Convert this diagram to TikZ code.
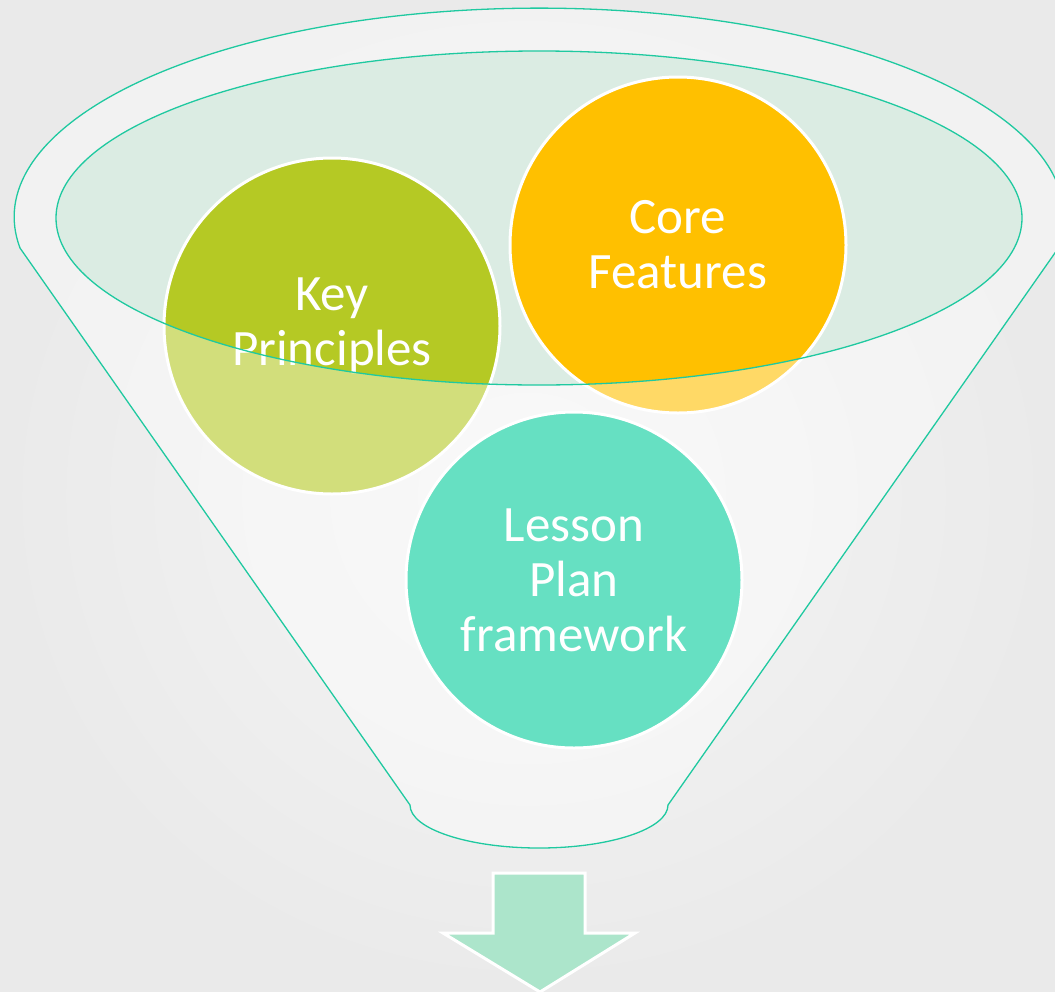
\documentclass[tikz,border=0pt]{standalone}
\usepackage{fontspec}
\setmainfont{Carlito}
\definecolor{bgin}{HTML}{F6F6F6}
\definecolor{bgout}{HTML}{EAEAEA}
\definecolor{funline}{HTML}{1FC9A0}
\definecolor{openfill}{HTML}{DBECE3}
\definecolor{kpcol}{HTML}{B5C924}
\definecolor{cfcol}{HTML}{FFC000}
\definecolor{lpcol}{HTML}{66E0C2}
\definecolor{arrcol}{HTML}{ACE5CB}
\tikzset{
  bubble/.style={circle, draw=white, line width=3pt, inner sep=0pt, minimum size=336pt,
    text=white, align=center, font=\fontsize{51}{55}\selectfont},
  funnelline/.style={draw=funline, line width=1.3pt},
}
\begin{document}
\begin{tikzpicture}[x=1pt,y=-1pt]
\useasboundingbox (0,0) rectangle (1055,991);
% background
\shade[inner color=bgin, outer color=bgout] (0,0) rectangle (1055,991);
% funnel opening fill
\fill[openfill] (539,218) ellipse[x radius=483, y radius=167];
% back circles
\node[bubble, fill=kpcol] (kp) at (332,326) {Key\\Principles};
\node[bubble, fill=cfcol] (cf) at (678,245) {Core\\Features};
% funnel body overlay (semi-transparent)
\fill[white, fill opacity=0.4, even odd rule]
  (410,805) -- (20,248)
  arc[start angle=171.5, end angle=368.5, x radius=525, y radius=209]
  -- (668,805)
  arc[start angle=0, end angle=180, x radius=129, y radius=43] -- cycle
  (539,218) ellipse[x radius=483, y radius=167];
% outlines
\draw[funnelline, line join=round]
  (410,805) -- (20,248)
  arc[start angle=171.5, end angle=368.5, x radius=525, y radius=209]
  -- (668,805)
  arc[start angle=0, end angle=180, x radius=129, y radius=43] -- cycle;
\draw[funnelline] (539,218) ellipse[x radius=483, y radius=167];
% front circle
\node[bubble, fill=lpcol] (lp) at (574,580) {Lesson\\Plan\\framework};
% arrow
\fill[arrcol, draw=white, line width=3pt, line join=miter]
  (493,873) -- (585,873) -- (585,933) -- (635,933) -- (540,992) -- (443,933) -- (493,933) -- cycle;
\end{tikzpicture}
\end{document}
